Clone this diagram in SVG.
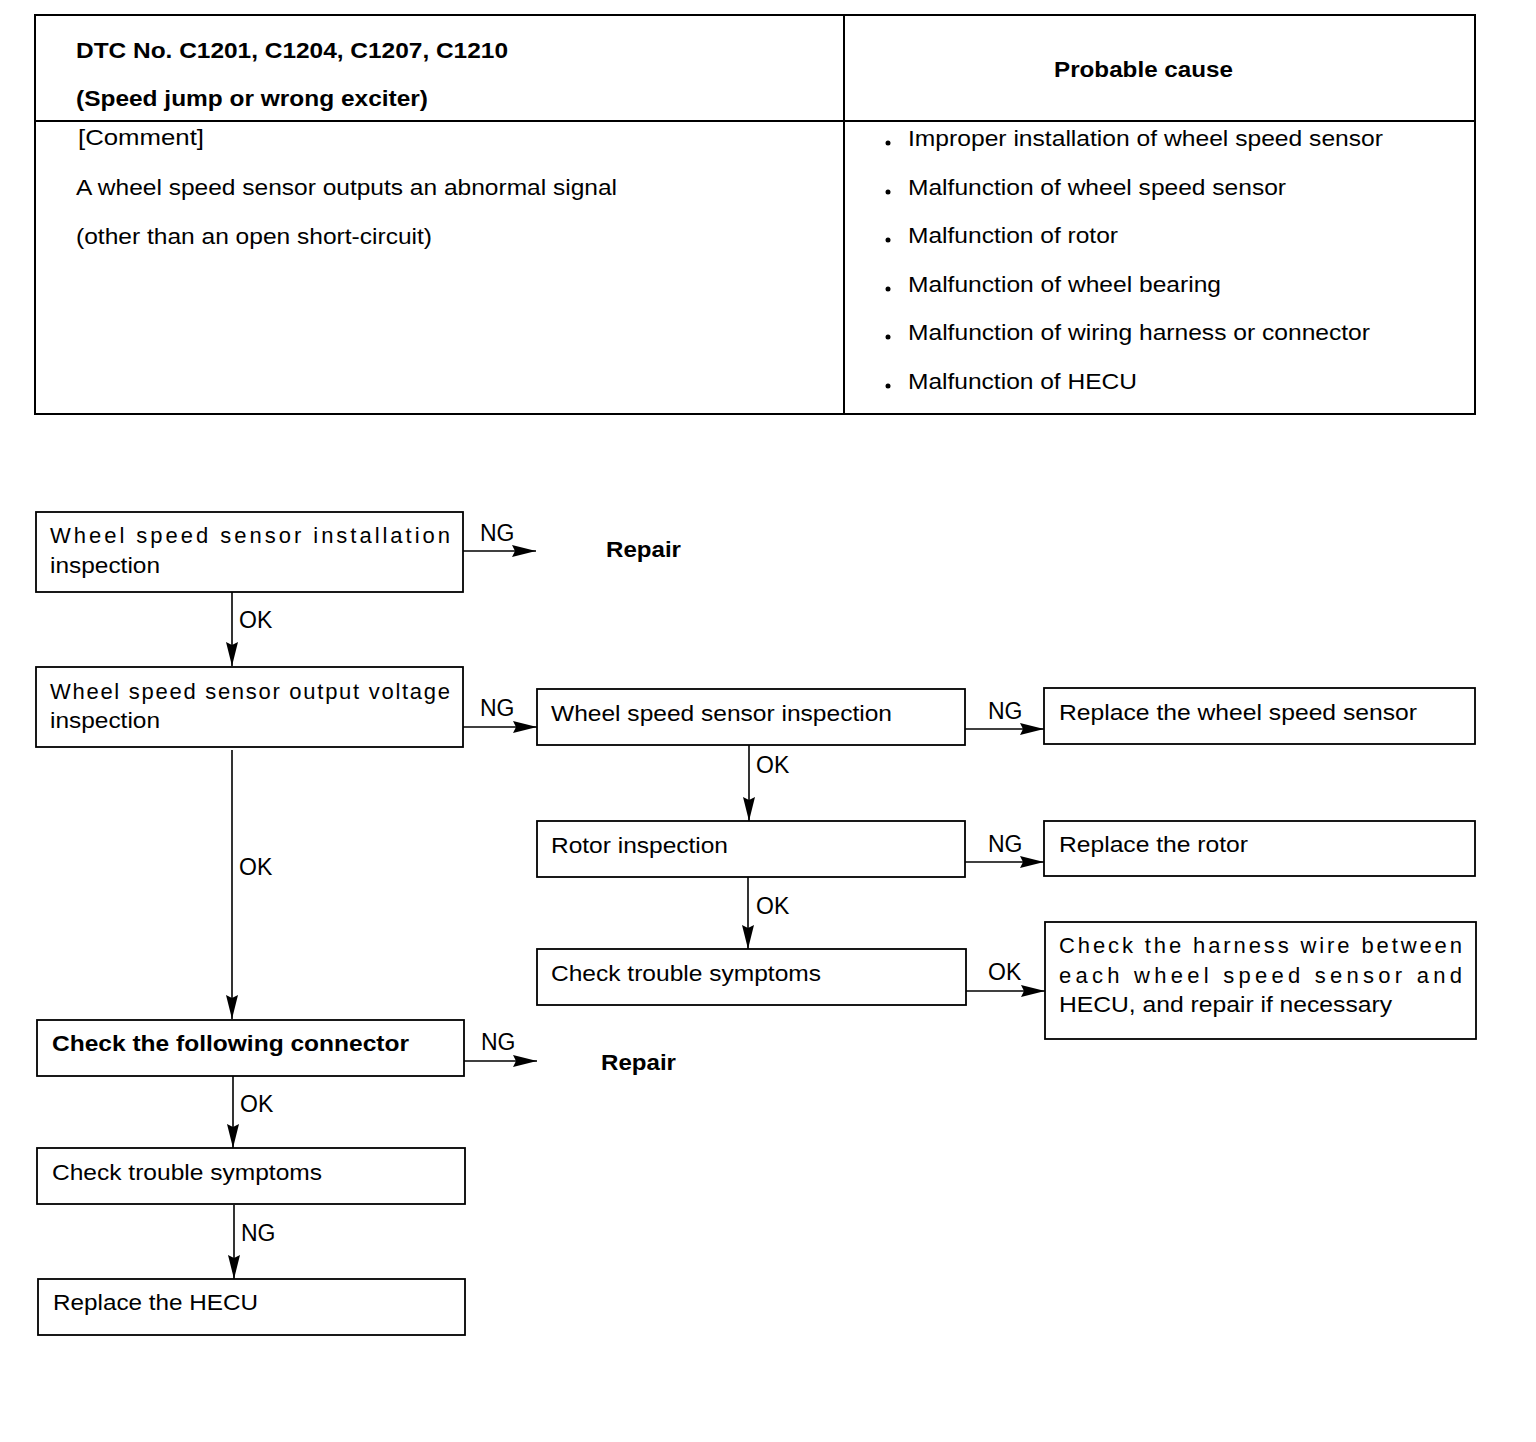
<svg xmlns="http://www.w3.org/2000/svg" width="1536" height="1442" viewBox="0 0 1536 1442">
<style>
.t{font-family:"Liberation Sans",Arial,sans-serif;font-size:22px;fill:#000}
.b{font-weight:bold}
.box{fill:#fff;stroke:#000;stroke-width:1.8}
.tbl{fill:none;stroke:#000;stroke-width:2}
.c{stroke:#000;stroke-width:1.6;fill:none;marker-end:url(#ah)}
.lbl{font-family:"Liberation Sans",Arial,sans-serif;font-size:23px;fill:#000}
</style>
<defs>
<marker id="ah" markerUnits="userSpaceOnUse" markerWidth="26" markerHeight="14" refX="24" refY="7" orient="auto">
<path d="M0,1 L24,7 L0,13 L3,7 z" fill="#000"/>
</marker>
</defs>
<rect width="1536" height="1442" fill="#fff"/>

<g id="table">
<rect class="tbl" x="35" y="15" width="1440" height="399"/>
<line class="tbl" x1="844" y1="15" x2="844" y2="414"/>
<line class="tbl" x1="35" y1="121" x2="1475" y2="121"/>
<text class="t b" x="76" y="58" textLength="432" lengthAdjust="spacingAndGlyphs">DTC No. C1201, C1204, C1207, C1210</text>
<text class="t b" x="76" y="106" textLength="352" lengthAdjust="spacingAndGlyphs">(Speed jump or wrong exciter)</text>
<text class="t b" x="1054" y="77" textLength="179" lengthAdjust="spacingAndGlyphs">Probable cause</text>
<text class="t" x="78" y="145" textLength="126" lengthAdjust="spacingAndGlyphs">[Comment]</text>
<text class="t" x="76" y="195" textLength="541" lengthAdjust="spacingAndGlyphs">A wheel speed sensor outputs an abnormal signal</text>
<text class="t" x="76" y="244" textLength="356" lengthAdjust="spacingAndGlyphs">(other than an open short-circuit)</text>
<g id="causes">
<circle cx="888" cy="143" r="2.5"/>
<text class="t" x="908" y="146" textLength="475" lengthAdjust="spacingAndGlyphs">Improper installation of wheel speed sensor</text>
<circle cx="888" cy="192" r="2.5"/>
<text class="t" x="908" y="195" textLength="378" lengthAdjust="spacingAndGlyphs">Malfunction of wheel speed sensor</text>
<circle cx="888" cy="240" r="2.5"/>
<text class="t" x="908" y="243" textLength="210" lengthAdjust="spacingAndGlyphs">Malfunction of rotor</text>
<circle cx="888" cy="289" r="2.5"/>
<text class="t" x="908" y="292" textLength="313" lengthAdjust="spacingAndGlyphs">Malfunction of wheel bearing</text>
<circle cx="888" cy="337" r="2.5"/>
<text class="t" x="908" y="340" textLength="462" lengthAdjust="spacingAndGlyphs">Malfunction of wiring harness or connector</text>
<circle cx="888" cy="386" r="2.5"/>
<text class="t" x="908" y="389" textLength="229" lengthAdjust="spacingAndGlyphs">Malfunction of HECU</text>
</g>
</g>

<g id="connectors">
<line class="c" x1="463" y1="551" x2="536" y2="551"/>
<line class="c" x1="232" y1="592" x2="232" y2="666"/>
<line class="c" x1="463" y1="727" x2="537" y2="727"/>
<line class="c" x1="232" y1="750" x2="232" y2="1019"/>
<line class="c" x1="965" y1="729" x2="1044" y2="729"/>
<line class="c" x1="749" y1="745" x2="749" y2="821"/>
<line class="c" x1="965" y1="862" x2="1044" y2="862"/>
<line class="c" x1="748" y1="877" x2="748" y2="949"/>
<line class="c" x1="966" y1="991" x2="1045" y2="991"/>
<line class="c" x1="464" y1="1061" x2="537" y2="1061"/>
<line class="c" x1="233" y1="1076" x2="233" y2="1148"/>
<line class="c" x1="234" y1="1205" x2="234" y2="1279"/>
<text class="lbl" x="480" y="541">NG</text>
<text class="lbl" x="239" y="628">OK</text>
<text class="lbl" x="480" y="716">NG</text>
<text class="lbl" x="239" y="875">OK</text>
<text class="lbl" x="988" y="719">NG</text>
<text class="lbl" x="756" y="773">OK</text>
<text class="lbl" x="988" y="852">NG</text>
<text class="lbl" x="756" y="914">OK</text>
<text class="lbl" x="988" y="980">OK</text>
<text class="lbl" x="481" y="1050">NG</text>
<text class="lbl" x="240" y="1112">OK</text>
<text class="lbl" x="241" y="1241">NG</text>
</g>

<g id="n1">
<rect class="box" x="36" y="512" width="427" height="80"/>
<text class="t" x="50" y="543" textLength="400" lengthAdjust="spacing">Wheel speed sensor installation</text>
<text class="t" x="50" y="573" textLength="110" lengthAdjust="spacingAndGlyphs">inspection</text>
</g>
<g id="repair1"><text class="t b" x="606" y="557" textLength="75" lengthAdjust="spacingAndGlyphs">Repair</text></g>
<g id="n2">
<rect class="box" x="36" y="667" width="427" height="80"/>
<text class="t" x="50" y="699" textLength="400" lengthAdjust="spacing">Wheel speed sensor output voltage</text>
<text class="t" x="50" y="728" textLength="110" lengthAdjust="spacingAndGlyphs">inspection</text>
</g>
<g id="n3">
<rect class="box" x="537" y="689" width="428" height="56"/>
<text class="t" x="551" y="721" textLength="341" lengthAdjust="spacingAndGlyphs">Wheel speed sensor inspection</text>
</g>
<g id="n4">
<rect class="box" x="1044" y="688" width="431" height="56"/>
<text class="t" x="1059" y="720" textLength="358" lengthAdjust="spacingAndGlyphs">Replace the wheel speed sensor</text>
</g>
<g id="n5">
<rect class="box" x="537" y="821" width="428" height="56"/>
<text class="t" x="551" y="853" textLength="177" lengthAdjust="spacingAndGlyphs">Rotor inspection</text>
</g>
<g id="n6">
<rect class="box" x="1044" y="821" width="431" height="55"/>
<text class="t" x="1059" y="852" textLength="189" lengthAdjust="spacingAndGlyphs">Replace the rotor</text>
</g>
<g id="n7">
<rect class="box" x="537" y="949" width="429" height="56"/>
<text class="t" x="551" y="981" textLength="270" lengthAdjust="spacingAndGlyphs">Check trouble symptoms</text>
</g>
<g id="n8">
<rect class="box" x="1045" y="922" width="431" height="117"/>
<text class="t" x="1059" y="953" textLength="403" lengthAdjust="spacing">Check the harness wire between</text>
<text class="t" x="1059" y="983" textLength="403" lengthAdjust="spacing">each wheel speed sensor and</text>
<text class="t" x="1059" y="1012" textLength="333" lengthAdjust="spacingAndGlyphs">HECU, and repair if necessary</text>
</g>
<g id="n9">
<rect class="box" x="37" y="1020" width="427" height="56"/>
<text class="t b" x="52" y="1051" textLength="357" lengthAdjust="spacingAndGlyphs">Check the following connector</text>
</g>
<g id="repair2"><text class="t b" x="601" y="1070" textLength="75" lengthAdjust="spacingAndGlyphs">Repair</text></g>
<g id="n10">
<rect class="box" x="37" y="1148" width="428" height="56"/>
<text class="t" x="52" y="1180" textLength="270" lengthAdjust="spacingAndGlyphs">Check trouble symptoms</text>
</g>
<g id="n11">
<rect class="box" x="38" y="1279" width="427" height="56"/>
<text class="t" x="53" y="1310" textLength="205" lengthAdjust="spacingAndGlyphs">Replace the HECU</text>
</g>
</svg>
